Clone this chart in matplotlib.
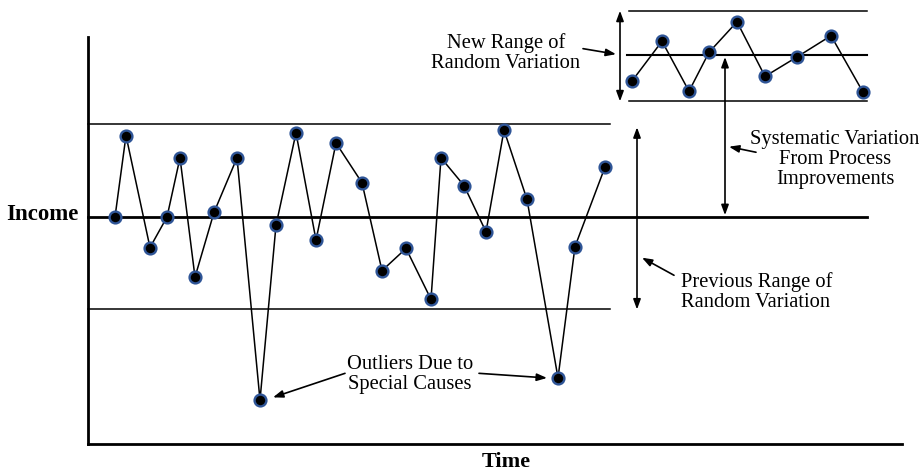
import matplotlib
matplotlib.use("Agg")
import matplotlib.pyplot as plt

# ---- data (time units, income units; center line = 100) ----
time_prev = [1.35, 1.9, 3.1, 3.95, 4.6, 5.35, 6.3, 7.45, 8.6, 9.4, 10.4, 11.4, 12.4,
             13.7, 14.7, 15.9, 17.15, 17.65, 18.8, 19.9, 20.8, 21.95, 23.5, 24.35, 25.85]
income_prev = [100.0, 108.8, 96.7, 100.0, 106.4, 93.5, 100.5, 106.4, 80.2, 99.1, 109.1,
               97.5, 108.0, 103.7, 94.2, 96.6, 91.1, 106.4, 103.4, 98.4, 109.4, 101.9,
               82.6, 96.8, 105.4]
time_new = [27.2, 28.7, 30.05, 31.05, 32.45, 33.85, 35.45, 37.15, 38.75]
income_new = [114.7, 119.0, 113.6, 117.8, 121.1, 115.2, 117.3, 119.6, 113.5]

prev_center, prev_upper, prev_lower = 100.0, 110.0, 90.0
new_center, new_upper, new_lower = 117.5, 122.3, 112.5
prev_xend, full_xend, new_xstart = 26.1, 38.95, 27.05

W, H = 919, 473
fig = plt.figure(figsize=(W / 100, H / 100), dpi=100)
L, R, T, B = 88, 902, 37, 444
ax = fig.add_axes([L / W, 1 - B / H, (R - L) / W, (B - T) / H])
ax.set_xlim(0, (R - L) / 20)
ax.set_ylim(100 + (217 - B) / 9.25, 100 + (217 - T) / 9.25)
for s in ["top", "right"]:
    ax.spines[s].set_visible(False)
for s in ["left", "bottom"]:
    ax.spines[s].set_linewidth(2.0)
ax.set_xticks([])
ax.set_yticks([])

serif = ["Liberation Serif", "DejaVu Serif"]
fs = 14.8
lsp = 1.08

# reference lines
ax.plot([0, prev_xend], [prev_upper] * 2, color="black", lw=1.1, clip_on=False)
ax.plot([0, prev_xend], [prev_lower] * 2, color="black", lw=1.1, clip_on=False)
ax.plot([0, full_xend], [prev_center] * 2, color="black", lw=2.0, clip_on=False)
ax.plot([new_xstart, full_xend], [new_upper] * 2, color="black", lw=1.1, clip_on=False)
ax.plot([new_xstart - 0.1, full_xend], [new_center] * 2, color="black", lw=1.5, clip_on=False)
ax.plot([new_xstart, full_xend], [new_lower] * 2, color="black", lw=1.1, clip_on=False)

mk = dict(color="black", lw=1.1, marker="o", markersize=8.5, markerfacecolor="black",
          markeredgecolor="#2f5597", markeredgewidth=1.7, clip_on=False, zorder=3)
ax.plot(time_prev, income_prev, **mk)
ax.plot(time_new, income_new, **mk)

dbl = dict(arrowstyle="<|-|>,head_length=0.6,head_width=0.22", color="black", lw=1.2,
           shrinkA=0, shrinkB=0)
one = dict(arrowstyle="-|>,head_length=0.6,head_width=0.22", color="black", lw=1.2,
           shrinkA=0, shrinkB=0)

# new range double arrow
ax.annotate("", xy=(26.6, new_upper), xytext=(26.6, new_lower),
            arrowprops=dbl, annotation_clip=False)
# systematic double arrow
ax.annotate("", xy=(31.85, new_center - 0.2), xytext=(31.85, prev_center + 0.2),
            arrowprops=dbl, annotation_clip=False)
# previous range double arrow
ax.annotate("", xy=(27.45, prev_upper - 0.3), xytext=(27.45, prev_lower),
            arrowprops=dbl, annotation_clip=False)

# labels with pointer arrows
ax.annotate("", xy=(26.4, 117.6), xytext=(24.75, 118.2), arrowprops=one,
            annotation_clip=False)
ax.text(20.9, 117.7, "New Range of\nRandom Variation", ha="center", va="center",
        fontsize=fs, family=serif, linespacing=lsp)

ax.annotate("", xy=(32.05, 107.6), xytext=(33.4, 107.0), arrowprops=one,
            annotation_clip=False)
ax.text(37.35, 106.2, "Systematic Variation\nFrom Process\nImprovements", ha="center",
        va="center", fontsize=fs, family=serif, linespacing=lsp, clip_on=False)

ax.annotate("", xy=(27.7, 95.6), xytext=(29.3, 93.7), arrowprops=one,
            annotation_clip=False)
ax.text(29.65, 91.9, "Previous Range of\nRandom Variation", ha="left", va="center",
        fontsize=fs, family=serif, linespacing=lsp)

ax.annotate("", xy=(9.25, 80.5), xytext=(12.85, 83.1), arrowprops=one,
            annotation_clip=False)
ax.annotate("", xy=(22.95, 82.6), xytext=(19.55, 83.1), arrowprops=one,
            annotation_clip=False)
ax.text(16.1, 83.0, "Outliers Due to\nSpecial Causes", ha="center", va="center",
        fontsize=fs, family=serif, linespacing=lsp)

fig.text(6 / W, 1 - 214 / H, "Income", ha="left", va="center", fontsize=16.5,
         fontweight="bold", family=serif)
fig.text(506 / W, 1.5 / H, "Time", ha="center", va="bottom", fontsize=16,
         fontweight="bold", family=serif)

fig.savefig("out.png", dpi=100)
